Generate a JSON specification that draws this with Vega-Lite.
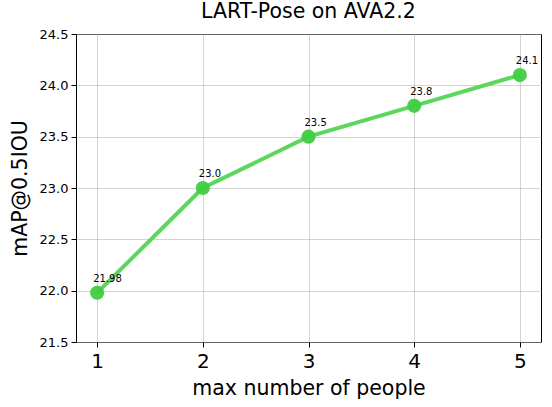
{
  "$schema": "https://vega.github.io/schema/vega-lite/v6.json",
  "width": 465,
  "height": 308,
  "autosize": {"type": "none"},
  "padding": {"left": 76, "top": 34, "right": 11, "bottom": 65},
  "background": "white",
  "config": {
    "font": "DejaVu Sans",
    "view": {"stroke": "black", "strokeWidth": 1}
  },
  "title": {"text": "LART-Pose on AVA2.2", "fontSize": 20.5, "font": "DejaVu Sans", "fontWeight": "normal", "color": "black", "offset": 6},
  "data": {"values": [
    {"people": 1, "map": 21.98, "label": "21.98"},
    {"people": 2, "map": 23.0, "label": "23.0"},
    {"people": 3, "map": 23.5, "label": "23.5"},
    {"people": 4, "map": 23.8, "label": "23.8"},
    {"people": 5, "map": 24.1, "label": "24.1"}
  ]},
  "encoding": {
    "x": {"field": "people", "type": "quantitative",
      "scale": {"domain": [0.8, 5.2], "nice": false, "zero": false},
      "axis": {"values": [1, 2, 3, 4, 5], "title": "max number of people", "titleFontSize": 20.5, "titleFontWeight": "normal", "titleColor": "black", "titlePadding": 7,
        "labelFontSize": 20, "labelColor": "black", "labelPadding": 4, "tickColor": "black", "tickSize": 5, "domain": false,
        "grid": true, "gridColor": "#b0b0b0", "gridOpacity": 0.7, "gridWidth": 0.8}},
    "y": {"field": "map", "type": "quantitative",
      "scale": {"domain": [21.5, 24.5], "nice": false, "zero": false},
      "axis": {"values": [21.5, 22, 22.5, 23, 23.5, 24, 24.5], "format": ".1f", "title": "mAP@0.5IOU", "titleFontSize": 20.5, "titleFontWeight": "normal", "titleColor": "black", "titlePadding": 9,
        "labelFontSize": 13, "labelColor": "black", "labelPadding": 3, "tickColor": "black", "tickSize": 5, "domain": false,
        "grid": true, "gridColor": "#b0b0b0", "gridOpacity": 0.7, "gridWidth": 0.8}}
  },
  "layer": [
    {"mark": {"type": "line", "color": "#5cd65c", "strokeWidth": 4}},
    {"mark": {"type": "point", "filled": true, "color": "#3fcc3f", "size": 200, "opacity": 0.95}},
    {"mark": {"type": "text", "align": "left", "baseline": "alphabetic", "dx": -4, "dy": -11, "fontSize": 10, "color": "black"},
     "encoding": {"text": {"field": "label"}}}
  ]
}
